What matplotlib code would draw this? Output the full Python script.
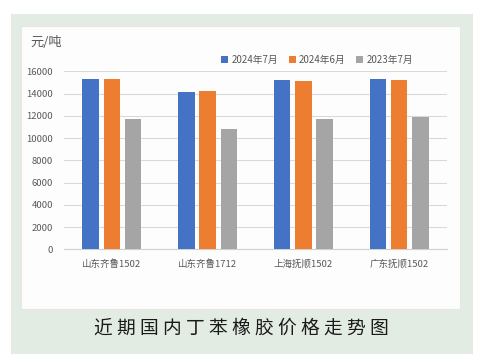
import numpy as np
import matplotlib.pyplot as plt
from matplotlib.patches import Rectangle

plt.rcParams['font.family'] = ['Noto Sans CJK SC', 'DejaVu Sans']

categories = ['山东齐鲁1502', '山东齐鲁1712', '上海抚顺1502', '广东抚顺1502']
series_names = ['2024年7月', '2024年6月', '2023年7月']
jul_2024 = [15300, 14100, 15200, 15300]
jun_2024 = [15300, 14200, 15100, 15200]
jul_2023 = [11700, 10800, 11700, 11900]
colors = ['#4472c4', '#ed7d31', '#a5a5a5']
yticks = [0, 2000, 4000, 6000, 8000, 10000, 12000, 14000, 16000]
title = '近期国内丁苯橡胶价格走势图'

W, H = 480, 354
fig = plt.figure(figsize=(W / 100, H / 100), dpi=100)
fig.patch.set_facecolor('white')

# green panel and inner white card
fig.patches.append(Rectangle((11 / W, 0), 462 / W, 1 - 14 / H,
                             transform=fig.transFigure, facecolor='#e3ece2',
                             edgecolor='none', zorder=-3))
fig.patches.append(Rectangle((21 / W, 1 - 309 / H), 439 / W, 283 / H,
                             transform=fig.transFigure, facecolor='#fdfdfd',
                             edgecolor='#e6e6e6', linewidth=0.8, zorder=-2))

ax = fig.add_axes([64 / W, 1 - 249.3 / H, 383 / W, 178 / H])
ax.set_facecolor('none')

x = np.arange(len(categories))
step = 0.222
width = 0.17
for i, (vals, name) in enumerate(zip([jul_2024, jun_2024, jul_2023], series_names)):
    ax.bar(x + (i - 1) * step, vals, width, color=colors[i], label=name, zorder=3)

ax.set_xlim(-0.5, len(categories) - 0.5)
ax.set_ylim(0, 16000)
ax.set_yticks(yticks)
ax.set_yticklabels([str(v) for v in yticks])
ax.set_xticks(x)
ax.set_xticklabels(categories)
ax.tick_params(axis='both', length=0, labelsize=6.8, colors='#595959')
ax.tick_params(axis='y', pad=8)
ax.tick_params(axis='x', pad=7)
ax.grid(axis='y', color='#d9d9d9', linewidth=0.8, zorder=0)
for s in ['top', 'right', 'left']:
    ax.spines[s].set_visible(False)
ax.spines['bottom'].set_color('#d0d0d0')
ax.set_axisbelow(True)

ax.legend(loc='lower left', bbox_to_anchor=(157 / 383, 1.035), ncol=3, frameon=False,
          fontsize=7, labelcolor='#595959', handlelength=0.75, handleheight=0.75,
          handletextpad=0.3, columnspacing=1.1, borderaxespad=0, borderpad=0)

fig.text(30 / W, 1 - 43 / H, '元/吨', fontsize=9.5, color='#595959', va='center', ha='left')
fig.text(241 / W, 1 - 328 / H, ' '.join(title), fontsize=13.5, color='#1a1a1a',
         va='center', ha='center')

fig.savefig('out.png', dpi=100)
